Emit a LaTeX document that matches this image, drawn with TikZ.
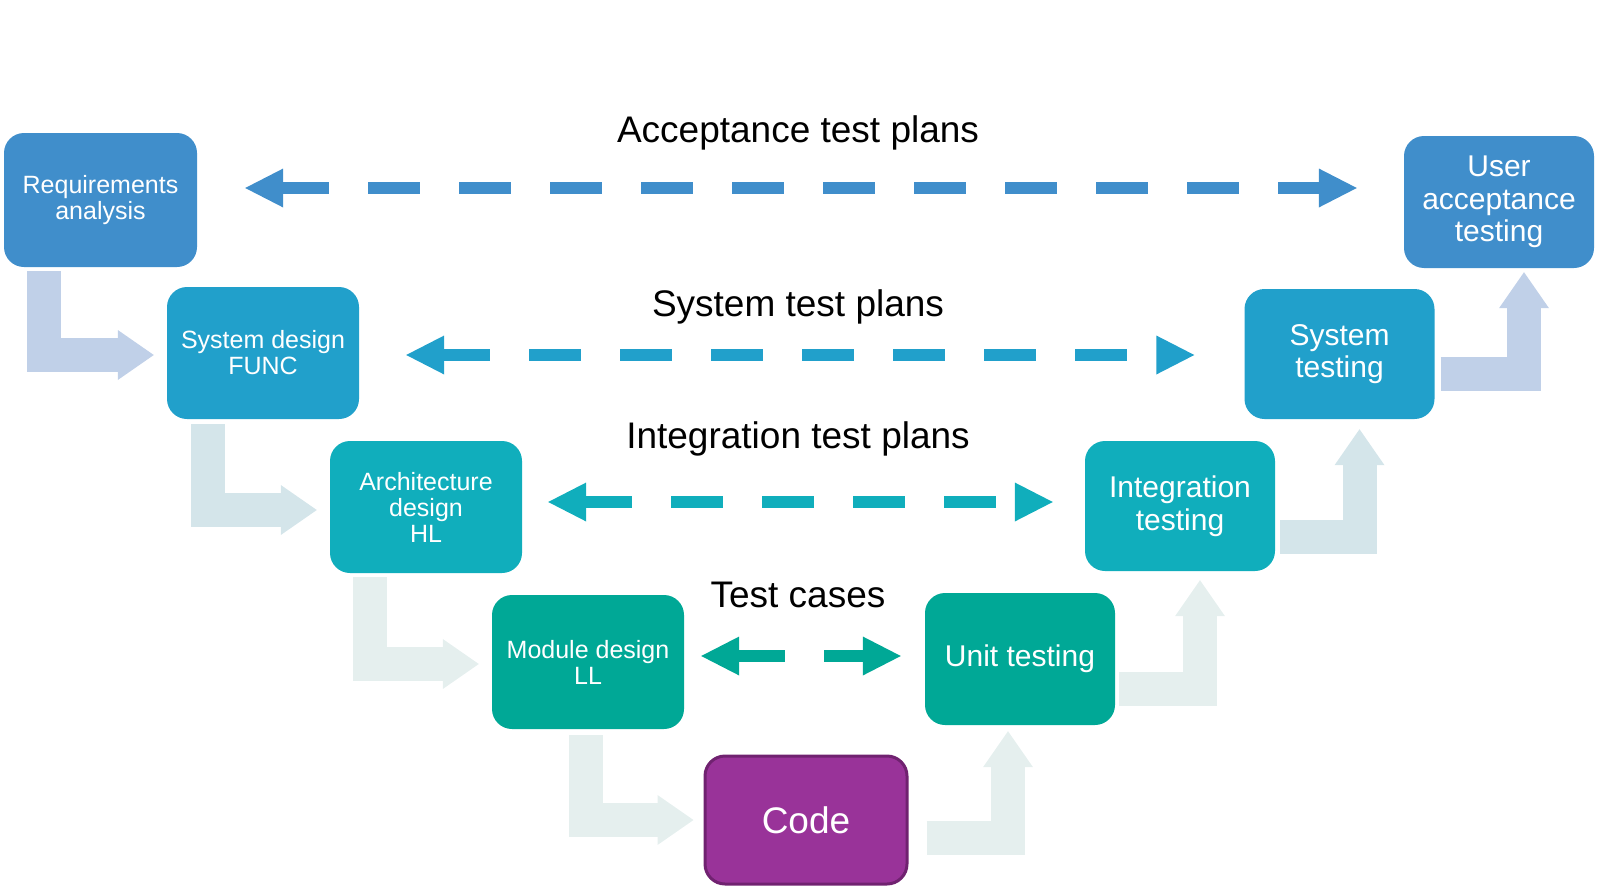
\documentclass[tikz,border=0pt]{standalone}
\usepackage{fontspec}
\setmainfont{Liberation Sans}
\usetikzlibrary{arrows.meta,calc}

\definecolor{levelone}{RGB}{64,142,203}
\definecolor{leveltwo}{RGB}{33,160,203}
\definecolor{levelthree}{RGB}{16,174,188}
\definecolor{levelfour}{RGB}{0,168,150}
\definecolor{codefill}{RGB}{153,51,153}
\definecolor{codeline}{RGB}{112,34,112}
\definecolor{bendone}{RGB}{192,208,232}
\definecolor{bendtwo}{RGB}{212,229,234}
\definecolor{bendthree}{RGB}{229,239,238}

\tikzset{
  box/.style={rounded corners=20pt, text=white, align=center, inner sep=0pt,
              minimum width=192pt, minimum height=132pt,
              font=\fontsize{25}{26}\selectfont},
  testbox/.style={box, minimum width=190pt, minimum height=130pt,
              font=\fontsize{30}{32.5}\selectfont},
  plan/.style={font=\fontsize{37}{37}\selectfont},
  dashline/.style={line width=12pt, dash pattern=on 52pt off 39pt, dash phase=6pt,
              {Triangle[length=38pt,width=39pt,line width=0pt]}-{Triangle[length=38pt,width=39pt,line width=0pt]}},
  bendarrow/.style={line width=34pt, line join=miter,
              -{Triangle[length=36pt,width=50pt,line width=0pt]}}
}

\begin{document}
\begin{tikzpicture}[x=1pt,y=-1pt]

\useasboundingbox (0,0) rectangle (1608,886);

% left branch
\node[box, fill=levelone, minimum width=193pt, minimum height=134pt] (req) at (100.5,200) {Requirements\\analysis};
\node[box, fill=leveltwo] (sysd) at (263,353) {System design\\FUNC};
\node[box, fill=levelthree] (arch) at (426,507) {Architecture\\design\\HL};
\node[box, fill=levelfour, minimum height=134pt] (mod) at (588,662) {Module design\\LL};

% bottom
\node[box, fill=codefill, draw=codeline, line width=3pt, minimum width=202pt, minimum height=128pt,
      font=\fontsize{37}{37}\selectfont] (code) at (806,820) {Code};

% right branch
\node[testbox, fill=levelfour, minimum height=132pt] (unit) at (1020,659) {\raisebox{-3pt}{Unit testing}};
\node[testbox, fill=levelthree] (int) at (1180,506) {Integration\\testing};
\node[testbox, fill=leveltwo] (sys) at (1339.5,354) {System\\testing};
\node[testbox, fill=levelone, minimum height=132pt] (uat) at (1499,202) {User\\acceptance\\testing};

% plans between the branches
\node[plan] (lblaccept) at (798,133) {Acceptance test plans};
\node[plan] (lblsystem) at (798,307) {System test plans};
\node[plan] (lblinteg) at (798,439) {Integration test plans};
\node[plan] (lblcases) at (798,595) {Test cases};

\draw[dashline, levelone] ($(req.east)+(48,-12)$) -- ($(uat.west)+(-47,-14)$);
\draw[dashline, leveltwo] ($(sysd.east)+(47,2)$) -- ($(sys.west)+(-50,1)$);
\draw[dashline, levelthree] ($(arch.east)+(26,-5)$) -- ($(int.west)+(-32,-4)$);
\draw[dashline, levelfour] ($(mod.east)+(17,-6)$) -- ($(unit.west)+(-24,-3)$);

% going down
\draw[bendarrow, bendone] ($(req.south west)+(40,4)$) |- ($(sysd.west)+(-13,2)$);
\draw[bendarrow, bendtwo] ($(sysd.south west)+(41,5)$) |- ($(arch.west)+(-13,3)$);
\draw[bendarrow, bendthree] ($(arch.south west)+(40,4)$) |- ($(mod.west)+(-13,2)$);
\draw[bendarrow, bendthree] ($(mod.south west)+(94,6)$) |- ($(code.west)+(-10,0)$);

% going up
\draw[bendarrow, bendthree] ($(code.east)+(18,18)$) -| ($(unit.south)+(-12,6)$);
\draw[bendarrow, bendthree] ($(unit.east)+(4,30)$) -| ($(int.south)+(20,9)$);
\draw[bendarrow, bendtwo] ($(int.east)+(5,31)$) -| ($(sys.south)+(20,10)$);
\draw[bendarrow, bendone] ($(sys.east)+(6,20)$) -| ($(uat.south)+(25,4)$);

\end{tikzpicture}
\end{document}
